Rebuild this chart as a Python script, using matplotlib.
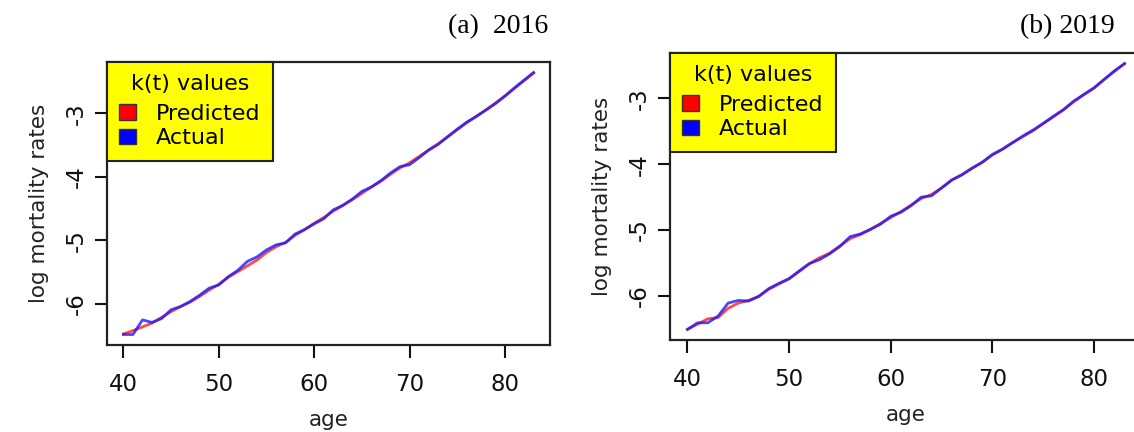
import matplotlib
matplotlib.use("Agg")
import matplotlib.pyplot as plt
from matplotlib.patches import Patch

plt.rcParams['font.family'] = 'DejaVu Sans'

ages = list(range(40, 84))

# log mortality rates, 2016
pred_2016 = [-6.47, -6.42, -6.36, -6.30, -6.21, -6.12, -6.04, -5.97, -5.88, -5.78,
             -5.69, -5.58, -5.49, -5.40, -5.31, -5.19, -5.10, -5.03, -4.92, -4.83,
             -4.73, -4.64, -4.54, -4.45, -4.36, -4.26, -4.16, -4.07, -3.96, -3.86,
             -3.78, -3.68, -3.58, -3.48, -3.37, -3.26, -3.15, -3.05, -2.95, -2.84,
             -2.73, -2.61, -2.49, -2.37]
actual_2016 = [-6.48, -6.48, -6.25, -6.29, -6.23, -6.09, -6.04, -5.96, -5.86, -5.75,
               -5.70, -5.57, -5.47, -5.33, -5.26, -5.15, -5.07, -5.04, -4.90, -4.83,
               -4.74, -4.66, -4.52, -4.45, -4.35, -4.23, -4.16, -4.06, -3.94, -3.84,
               -3.81, -3.70, -3.58, -3.49, -3.37, -3.25, -3.14, -3.05, -2.95, -2.85,
               -2.73, -2.60, -2.48, -2.36]

# log mortality rates, 2019
pred_2019 = [-6.51, -6.43, -6.35, -6.33, -6.19, -6.11, -6.07, -6.01, -5.90, -5.82,
             -5.74, -5.63, -5.51, -5.42, -5.35, -5.24, -5.13, -5.07, -4.99, -4.90,
             -4.81, -4.72, -4.62, -4.52, -4.46, -4.36, -4.24, -4.16, -4.06, -3.97,
             -3.86, -3.77, -3.67, -3.58, -3.49, -3.38, -3.28, -3.17, -3.05, -2.94,
             -2.84, -2.71, -2.59, -2.47]
actual_2019 = [-6.51, -6.41, -6.41, -6.31, -6.11, -6.07, -6.08, -6.01, -5.89, -5.81,
               -5.74, -5.62, -5.51, -5.45, -5.36, -5.25, -5.10, -5.06, -4.99, -4.91,
               -4.79, -4.73, -4.63, -4.50, -4.48, -4.36, -4.24, -4.16, -4.06, -3.97,
               -3.85, -3.77, -3.67, -3.57, -3.48, -3.38, -3.27, -3.17, -3.04, -2.94,
               -2.84, -2.71, -2.58, -2.47]

panel_titles = ['(a)  2016', '(b) 2019']
xticks = [40, 50, 60, 70, 80]
yticks = [-6, -5, -4, -3]

W, H = 1134, 432
fig = plt.figure(figsize=(W / 100, H / 100), dpi=100)
ax1 = fig.add_axes([107 / W, 1 - 345 / H, (550 - 107) / W, (345 - 62) / H])
ax2 = fig.add_axes([670 / W, 1 - 340 / H, (1142 - 670) / W, (340 - 53) / H])


def r_range(vals):
    # R-style axis range: data range padded by 4% on both sides
    lo, hi = min(vals), max(vals)
    pad = (hi - lo) * 0.04
    return lo - pad, hi + pad


def draw_panel(ax, pred, actual):
    ax.plot(ages, pred, color='#ff2a2a', lw=2.0, alpha=0.85)
    ax.plot(ages, actual, color='#1a1aff', lw=2.0, alpha=0.8)
    ax.set_xlim(*r_range(ages))
    ax.set_ylim(*r_range(pred + actual))
    ax.set_xticks(xticks)
    ax.set_yticks(yticks)
    ax.set_yticklabels([str(t) for t in yticks], rotation=90, va='center')
    ax.tick_params(direction='out', length=9, width=1.5, labelsize=16.5,
                   colors='#111111')
    ax.tick_params(axis='x', pad=11)
    ax.tick_params(axis='y', pad=5)
    for s in ax.spines.values():
        s.set_linewidth(1.6)
        s.set_color('#222222')
    ax.set_xlabel('age', fontsize=15.5, labelpad=10, color='#222222')
    ax.set_ylabel('log mortality rates', fontsize=15.5, labelpad=11, color='#222222')
    handles = [Patch(facecolor='red', edgecolor='#333333', label='Predicted'),
               Patch(facecolor='blue', edgecolor='#333333', label='Actual')]
    leg = ax.legend(handles=handles, title='k(t) values', loc='upper left',
                    bbox_to_anchor=(0, 1), borderaxespad=0, fontsize=16,
                    title_fontsize=16, frameon=True, fancybox=False,
                    facecolor='#ffff00', edgecolor='#222222', framealpha=1,
                    handlelength=0.75, handleheight=0.7, handletextpad=0.9,
                    borderpad=0.55, labelspacing=0.2)
    leg.get_frame().set_linewidth(1.5)
    leg._legend_box.sep = 7


draw_panel(ax1, pred_2016, actual_2016)
draw_panel(ax2, pred_2019, actual_2019)

fig.text(548 / W, 1 - 27 / H, panel_titles[0], ha='right', va='center',
         fontsize=20, family='Liberation Serif')
fig.text(1115 / W, 1 - 27 / H, panel_titles[1], ha='right', va='center',
         fontsize=20, family='Liberation Serif')

fig.savefig('out.png', dpi=100)
